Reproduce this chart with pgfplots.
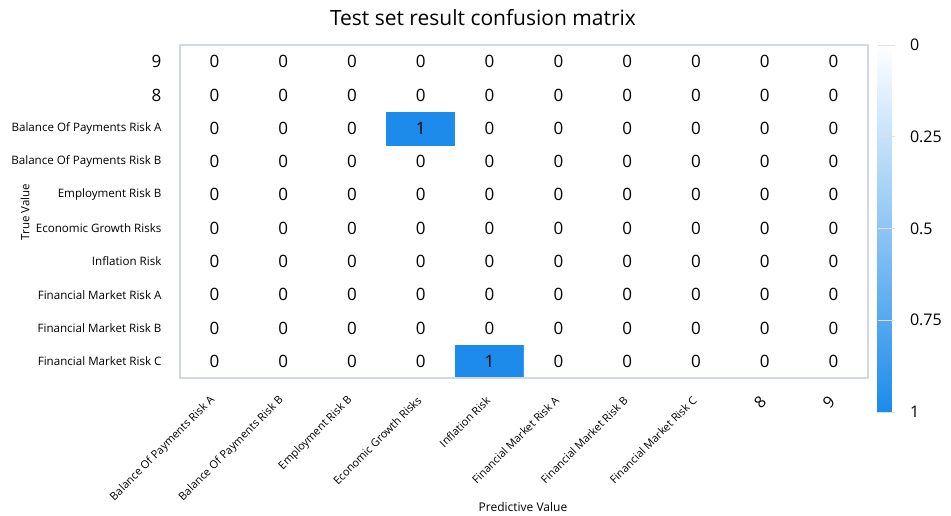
\documentclass[border=0pt]{standalone}
\usepackage{fontspec}
\setmainfont{Open Sans}
\usepackage{pgfplots}
\usepackage{pgfplotstable}
\pgfplotsset{compat=1.18}
\definecolor{cmblue}{RGB}{28,139,235}
\definecolor{framec}{RGB}{210,216,230}
\pgfplotstableread{
x y c
0 0 0
1 0 0
2 0 0
3 0 0
4 0 1
5 0 0
6 0 0
7 0 0
8 0 0
9 0 0
0 1 0
1 1 0
2 1 0
3 1 0
4 1 0
5 1 0
6 1 0
7 1 0
8 1 0
9 1 0
0 2 0
1 2 0
2 2 0
3 2 0
4 2 0
5 2 0
6 2 0
7 2 0
8 2 0
9 2 0
0 3 0
1 3 0
2 3 0
3 3 0
4 3 0
5 3 0
6 3 0
7 3 0
8 3 0
9 3 0
0 4 0
1 4 0
2 4 0
3 4 0
4 4 0
5 4 0
6 4 0
7 4 0
8 4 0
9 4 0
0 5 0
1 5 0
2 5 0
3 5 0
4 5 0
5 5 0
6 5 0
7 5 0
8 5 0
9 5 0
0 6 0
1 6 0
2 6 0
3 6 0
4 6 0
5 6 0
6 6 0
7 6 0
8 6 0
9 6 0
0 7 0
1 7 0
2 7 0
3 7 1
4 7 0
5 7 0
6 7 0
7 7 0
8 7 0
9 7 0
0 8 0
1 8 0
2 8 0
3 8 0
4 8 0
5 8 0
6 8 0
7 8 0
8 8 0
9 8 0
0 9 0
1 9 0
2 9 0
3 9 0
4 9 0
5 9 0
6 9 0
7 9 0
8 9 0
9 9 0
}\cm
\begin{document}
\begin{tikzpicture}
\path[use as bounding box] (0pt,0pt) rectangle (951pt,516pt);
\begin{axis}[
  at={(180pt,138pt)}, anchor=south west,
  width=688pt, height=333pt, scale only axis,
  xmin=-0.5, xmax=9.5, ymin=-0.5, ymax=9.5,
  enlargelimits=false,
  axis on top,
  axis line style={framec, line width=1.2pt},
  tick style={draw=none},
  xtick={0,...,9}, ytick={0,...,9},
  xticklabels={Balance Of Payments Risk A, Balance Of Payments Risk B, Employment Risk B, Economic Growth Risks, Inflation Risk, Financial Market Risk A, Financial Market Risk B, Financial Market Risk C, {\fontsize{16}{16}\selectfont 8}, {\fontsize{16}{16}\selectfont 9}},
  yticklabels={Financial Market Risk C, Financial Market Risk B, Financial Market Risk A, Inflation Risk, Economic Growth Risks, Employment Risk B, Balance Of Payments Risk B, Balance Of Payments Risk A, {\fontsize{17}{17}\selectfont 8}, {\fontsize{17}{17}\selectfont 9}},
  xticklabel style={font=\fontsize{11}{12}\selectfont, xshift=1pt, yshift=-18pt, rotate=45, anchor=east},
  yticklabel style={font=\fontsize{11.6}{13}\selectfont, anchor=east, xshift=-15pt},
  colormap={wb}{color(0)=(white) color(1)=(cmblue)},
  point meta min=0, point meta max=1,
  colorbar,
  colorbar style={
    anchor=north west, at={(parent axis.north east)}, xshift=1pt,
    width=17pt, height=367pt, scale only axis,
    y dir=reverse,
    ytick={0,0.25,0.5,0.75,1},
    yticklabels={0,0.25,0.5,0.75,1},
    yticklabel style={font=\fontsize{16}{16}\selectfont, xshift=12pt},
    axis line style={draw=none},
    tick style={draw=none},
    ymajorgrids, major grid style={white!88!black, line width=1pt},
  },
]
\addplot[matrix plot*, mesh/cols=10, point meta=explicit] table[meta=c] {\cm};
\addplot[draw=none, mark=none, point meta=explicit,
  nodes near coords={\pgfmathprintnumber[assume math mode=true]{\pgfplotspointmeta}},
  nodes near coords style={anchor=center, font=\fontsize{17}{17}\selectfont, text=black}]
  table[meta=c] {\cm};
\end{axis}
\node[font=\fontsize{21}{22}\selectfont] at (483pt,498pt) {Test set result confusion matrix};
\node[font=\fontsize{11.5}{12}\selectfont, rotate=90] at (25pt,304pt) {True Value};
\node[font=\fontsize{12}{13}\selectfont] at (523pt,9pt) {Predictive Value};
\end{tikzpicture}
\end{document}
